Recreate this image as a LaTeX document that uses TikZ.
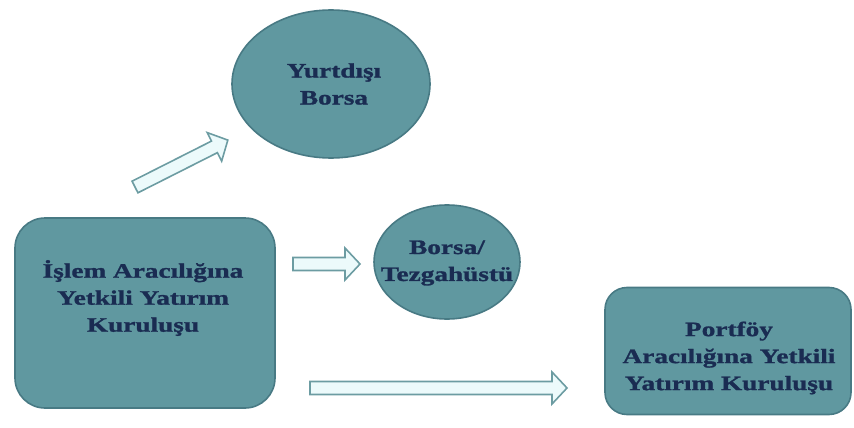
\documentclass[tikz,border=0pt]{standalone}
\usepackage{fontspec}
\usetikzlibrary{shapes.geometric}
\newfontfamily\labelfont[FakeStretch=1.33, BoldFeatures={FakeStretch=1.33,FakeBold=1.3}]{Liberation Serif}
\definecolor{shapefill}{RGB}{96,152,160}
\definecolor{shapeedge}{RGB}{72,122,132}
\definecolor{labelcol}{RGB}{26,44,82}
\definecolor{arrfill}{RGB}{236,250,251}
\definecolor{arredge}{RGB}{108,156,162}
\tikzset{
  shapestyle/.style={draw=shapeedge, line width=1.6pt, fill=shapefill},
  labelstyle/.style={font=\labelfont\bfseries\fontsize{20.5}{27}\selectfont, text=labelcol, align=center, inner sep=0pt},
  arrowstyle/.style={draw=arredge, line width=1.6pt, fill=arrfill, line join=miter},
  blockarrow/.pic={\draw[arrowstyle] (0,-6.5) -- (#1-15,-6.5) -- (#1-15,-16) -- (#1,0) -- (#1-15,16) -- (#1-15,6.5) -- (0,6.5) -- cycle;}
}
\begin{document}
\begin{tikzpicture}[x=1pt,y=-1pt]
\useasboundingbox (0,0) rectangle (854,428);
% shapes
\node[shapestyle, ellipse, minimum width=198pt, minimum height=148pt, inner sep=0pt] (yurt) at (331,84) {};
\node[shapestyle, ellipse, minimum width=146pt, minimum height=114pt, inner sep=0pt] (borsa) at (447,262) {};
\node[shapestyle, rectangle, rounded corners=30pt, minimum width=260pt, minimum height=190pt, inner sep=0pt] (islem) at (145,313) {};
\node[shapestyle, rectangle, rounded corners=22pt, minimum width=246pt, minimum height=127pt, inner sep=0pt] (portfoy) at (728,351) {};
% labels
\node[labelstyle] (yurtlbl) at ([xshift=3pt]yurt.center) {Yurtdışı\\Borsa};
\node[labelstyle] (borsalbl) at ([yshift=-1pt]borsa.center) {Borsa/\\Tezgahüstü};
\node[labelstyle] (islemlbl) at (143,298) {İşlem Aracılığına\\Yetkili Yatırım\\Kuruluşu};
\node[labelstyle] (portlbl) at (729,358) {Portföy\\Aracılığına Yetkili\\Yatırım Kuruluşu};
% block arrows
\pic[rotate=26.8] at (135,187) {blockarrow=104};
\pic at (293,264) {blockarrow=67};
\pic at (310,388) {blockarrow=257};
\end{tikzpicture}
\end{document}
